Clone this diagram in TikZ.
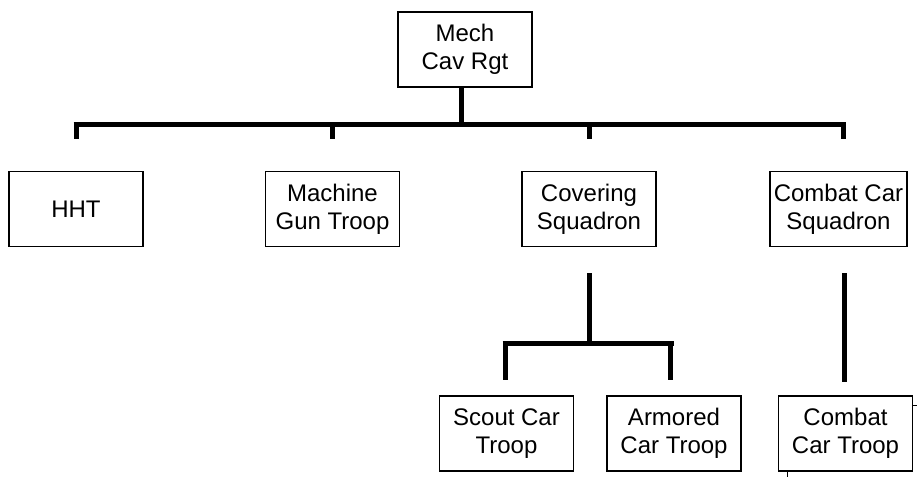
\documentclass[tikz,border=0pt]{standalone}
\usepackage{fontspec}
\setmainfont{Liberation Sans}
\usetikzlibrary{calc}
\tikzset{unit/.style={draw, line width=1.5pt, minimum width=134pt, minimum height=75pt, inner sep=0pt, align=center, font=\fontsize{24}{28}\selectfont}}
\tikzset{conn/.style={line width=5pt}}

\begin{document}
\begin{tikzpicture}[x=1pt,y=-1pt]
  \useasboundingbox (0,0) rectangle (917,476);
  \foreach \x/\y/\lab/\txt in {
    465/49.5/rgt/{Mech\\Cav Rgt},
    76/209/hht/{HHT},
    332.5/209/mgt/{Machine\\Gun Troop},
    589/209/cov/{Covering\\Squadron},
    506.5/433.5/sct/{Scout Car\\Troop},
    674/433.5/act/{Armored\\Car Troop},
    845.5/433.5/cct/{Combat\\Car Troop}%
  } {
    \node[unit] (\lab) at (\x, \y) {\txt};
  }
  \node[unit, minimum width=137pt] (ccs) at (838.5,209) {Combat Car\\Squadron};

  % regiment to its troops and squadrons
  \coordinate (bar) at (0,124);
  \draw[conn] ($(rgt.south)+(-4,0)$) -- ($(rgt.south |- bar)+(-4,0)$);
  \draw[conn] ($(hht.north |- bar)+(-2.5,0)$) -- ($(ccs.north |- bar)+(7,0)$);
  \foreach \u in {hht, mgt, cov}{
    \draw[conn] (\u.north |- bar) -- ++(0,15);
  }
  \draw[conn] ($(ccs.north |- bar)+(4.5,0)$) -- ++(0,15);

  % covering squadron
  \coordinate (sub) at (0,343);
  \draw[conn] ($(cov.south)+(0,26)$) -- (cov.south |- sub);
  \draw[conn] ($(sct.north |- sub)+(-4,0)$) -- ($(act.north |- sub)+(0,0)$);
  \draw[conn] ($(sct.north |- sub)+(-1.5,0)$) -- ++(0,37);
  \draw[conn] ($(act.north |- sub)+(-4,0)$) -- ++(0,37);

  % combat car squadron
  \draw[conn] ($(ccs.south)+(5.5,26)$) -- ($(cct.north)+(-1.5,-13)$);

  \draw[line width=1pt] ($(cct.north east)+(0,10)$) -- ++(5,0);
  \draw[line width=1pt] ($(cct.south west)+(10,0)$) -- ++(0,5);
\end{tikzpicture}
\end{document}
